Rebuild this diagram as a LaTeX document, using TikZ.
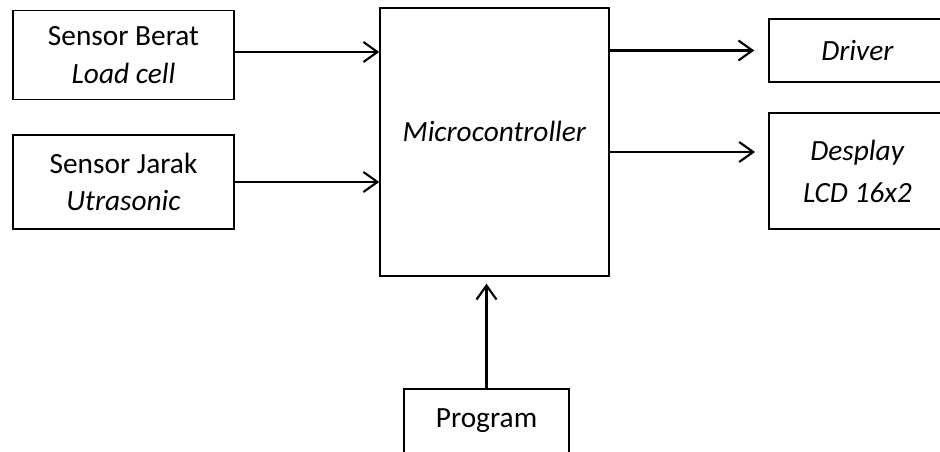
\documentclass[tikz,border=0pt]{standalone}
\usepackage{fontspec}
\setmainfont{Carlito}
\usetikzlibrary{arrows.meta}
\begin{document}
\begin{tikzpicture}[x=0.75pt,y=-0.75pt,
  box/.style={draw,line width=1.1pt,inner sep=0pt,align=center,
    font=\fontsize{22}{28}\selectfont},
  lbl/.style={inner sep=0pt,align=center,font=\fontsize{22}{28}\selectfont},
  arr/.style={line width=1.6pt,-{Straight Barb[length=10.5pt,width=15pt,line width=1.6pt]}}]
\useasboundingbox (0,0) rectangle (940,452);
\clip (0,0) rectangle (940,452);
% input blocks
\node[box,minimum width=165.75pt,minimum height=66.75pt] (s1) at (123.5,55)
  {Sensor Berat\\\textit{Load cell}};
\node[box,minimum width=165.75pt,minimum height=70.5pt] (s2) at (123.5,182)
  {Sensor Jarak\\\textit{Utrasonic}};
% controller
\node[box,minimum width=171.75pt,minimum height=201pt] (mc) at (494.5,142) {};
\node[lbl] (mctext) at (494.5,131) {\textit{Microcontroller}};
% outputs
\node[box,minimum width=132.75pt,minimum height=47.25pt] (drv) at (857.5,50.5)
  {\textit{Driver}};
\node[box,minimum width=132.75pt,minimum height=87pt,
  font=\fontsize{22}{31.5}\selectfont] (dsp) at (857.5,171)
  {\textit{Desplay}\\\textit{LCD 16x2}};
% program source
\node[box,minimum width=123.75pt,minimum height=48pt] (prog) at (486.5,421)
  {Program};
% connectors
\coordinate (d2) at (769,152);
\coordinate (s1out) at (234,52);
\draw[arr] (s1out) -- (s1out -| mc.west);
\draw[arr] (s2.east) -- (s2.east -| mc.west);
\draw[arr,shorten >=10.5pt] (drv.west -| mc.east) -- (drv.west);
\draw[arr,shorten >=10.5pt] (d2 -| mc.east) -- (d2);
\draw[arr,shorten >=5.25pt] (prog.north) -- (prog.north |- mc.south);
\end{tikzpicture}
\end{document}
